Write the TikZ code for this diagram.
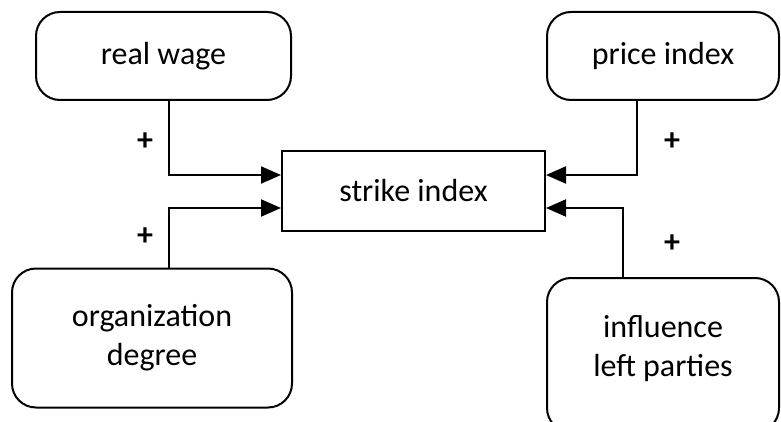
\documentclass[tikz,border=0pt]{standalone}
\usepackage{fontspec}
\setmainfont{Carlito}
\usetikzlibrary{arrows.meta, positioning}

\tikzset{
    factor/.style={draw, line width=1pt, rounded corners=12pt, align=center,
        font=\fontsize{16}{19.5}\selectfont},
    target/.style={draw, line width=1pt, font=\fontsize{16}{19.5}\selectfont},
    link/.style={line width=1pt, -{Triangle[length=10pt,width=8.5pt]}},
    sign/.style={font=\fontsize{16}{19.5}\selectfont\bfseries}
}

\begin{document}
\begin{tikzpicture}[x=0.5pt, y=-0.5pt]
    \useasboundingbox (0,0) rectangle (781,422);

    % Causes and effect
    \node[factor, minimum width=127.5pt, minimum height=44pt] (wage) at (163.5,56) {real wage};
    \node[factor, minimum width=116pt, minimum height=44pt] (price) at (663,56) {price index};
    \node[target, minimum width=131.5pt, minimum height=40pt] (strike) at (413.5,191) {strike index};
    \node[factor, minimum width=140pt, minimum height=69.5pt] (orga) at (152,338) {organization\\degree};
    \node[factor, minimum width=116pt, minimum height=77pt,
        label={[factor, draw=none, yshift=3pt]center:{influence\\left parties}}] (left) at (663,355) {};

    % Connectors
    \draw[link] ([xshift=2.75pt]wage.south) |- ([yshift=8pt]strike.west);
    \draw[link] ([xshift=8.5pt]orga.north) |- ([yshift=-8.5pt]strike.west);
    \draw[link] ([xshift=-13pt]price.south) |- ([yshift=8pt]strike.east);
    \draw[link] ([xshift=-20pt]left.north) |- ([yshift=-8.5pt]strike.east);

    % Signs
    \node[sign] (wagesign) at (145,142) {+};
    \node[sign] (orgasign) at (145,237) {+};
    \node[sign] (pricesign) at (672,142) {+};
    \node[sign] (leftsign) at (672,244) {+};
\end{tikzpicture}
\end{document}
